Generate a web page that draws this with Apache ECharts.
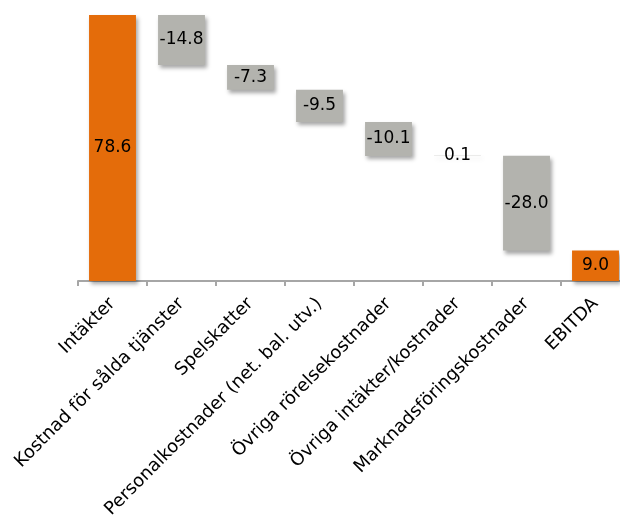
<!DOCTYPE html>
<html>
<head>
<meta charset="utf-8">
<script src="https://cdn.jsdelivr.net/npm/echarts@6/dist/echarts.min.js"></script>
<style>
    html, body { margin: 0; padding: 0; background: #fff; }
    #chart { width: 620px; height: 518px; }
</style>
</head>
<body>
<div id="chart"></div>
<script>
var categories = ['Intäkter', 'Kostnad för sålda tjänster', 'Spelskatter', 'Personalkostnader (net. bal. utv.)',
    'Övriga rörelsekostnader', 'Övriga intäkter/kostnader', 'Marknadsföringskostnader', 'EBITDA'];
var values = [78.6, -14.8, -7.3, -9.5, -10.1, 0.1, -28.0, 9.0];
var totals = [true, false, false, false, false, false, false, true];

// waterfall: invisible base + visible part
var baseData = [], barData = [];
var running = 0;
for (var i = 0; i < values.length; i++) {
    var v = values[i];
    if (totals[i]) {
        baseData.push(0);
        running = v;
        barData.push({value: v, label: v.toFixed(1), itemStyle: {color: '#E46C0A'}});
    } else {
        var next = running + v;
        baseData.push(Math.min(running, next));
        barData.push({value: Math.abs(v), label: v.toFixed(1), itemStyle: {color: '#B3B3AE'}});
        running = next;
    }
}

var myChart = echarts.init(document.getElementById('chart'));
myChart.setOption({
    animation: false,
    textStyle: {fontFamily: 'DejaVu Sans'},
    grid: {left: 78, width: 552, top: 15, bottom: 237, containLabel: false, outerBoundsMode: 'none'},
    xAxis: {
        type: 'category',
        data: categories,
        axisLine: {lineStyle: {color: '#A6A6A6', width: 2}},
        axisTick: {show: true, length: 5, lineStyle: {color: '#A6A6A6', width: 2}},
        axisLabel: {rotate: 45, interval: 0, color: '#000', fontSize: 18, margin: 20, fontFamily: 'DejaVu Sans'}
    },
    yAxis: {
        type: 'value', min: 0, max: 78.6, show: false,
        splitLine: {show: false}
    },
    series: [
        {
            type: 'bar', stack: 'wf', data: baseData, barWidth: '68%',
            itemStyle: {color: 'transparent'}, silent: true
        },
        {
            type: 'bar', stack: 'wf', barWidth: '68%',
            data: barData.map(function (d) {
                return {value: d.value, itemStyle: d.itemStyle};
            }),
            itemStyle: {shadowColor: 'rgba(0,0,0,0.35)', shadowBlur: 4, shadowOffsetX: 2, shadowOffsetY: 3},
            label: {
                show: true, position: 'inside', color: '#000', fontSize: 17, fontFamily: 'DejaVu Sans',
                formatter: function (p) { return barData[p.dataIndex].label; }
            }
        }
    ]
});
window.onresize = myChart.resize;
</script>
</body>
</html>
